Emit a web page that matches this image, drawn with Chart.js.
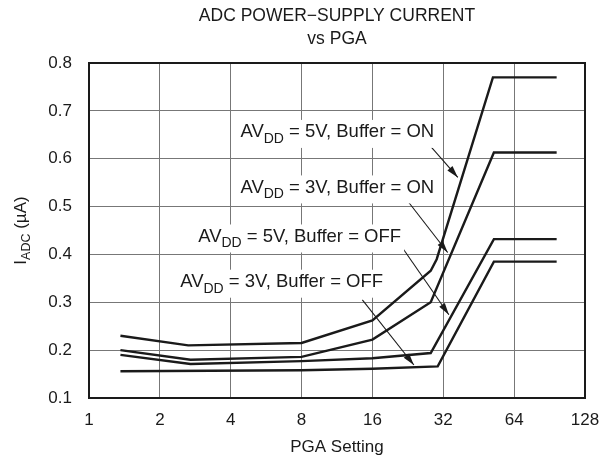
<!DOCTYPE html>
<html>
<head>
<meta charset="utf-8">
<script src="https://cdn.jsdelivr.net/npm/chart.js@4/dist/chart.umd.min.js"></script>
<style>
  body { margin: 0; background: #fff; }
  #c { display: block; }
</style>
</head>
<body>
<canvas id="c" width="613" height="466"></canvas>
<script>
// PGA ticks (log2 axis) and y ticks
var pgaTicks = [1, 2, 4, 8, 16, 32, 64, 128];
var yTicks = [0.1, 0.2, 0.3, 0.4, 0.5, 0.6, 0.7, 0.8];

// curves
var x5on  = [1.36, 2.64, 8, 16, 28.3, 30, 52, 97];
var y5on  = [0.23, 0.21, 0.215, 0.262, 0.366, 0.39, 0.77, 0.77];
var x3on  = [1.36, 2.7, 8, 16, 28.3, 52.5, 97];
var y3on  = [0.20, 0.18, 0.186, 0.222, 0.30, 0.613, 0.613];
var x5off = [1.36, 2.7, 8, 16, 28.3, 52.5, 97];
var y5off = [0.19, 0.171, 0.177, 0.183, 0.194, 0.432, 0.432];
var x3off = [1.36, 8, 16, 30.3, 52.5, 97];
var y3off = [0.156, 0.158, 0.161, 0.166, 0.385, 0.385];

// annotation labels: [voltage, buffer, x(left), y(center)]
var labels = [
  ['5V', 'ON', 4.4, 0.656],
  ['3V', 'ON', 4.4, 0.54],
  ['5V', 'OFF', 2.91, 0.4375],
  ['3V', 'OFF', 2.44, 0.343]
];
// arrows: [x0, y0, x1, y1]
var arrows = [
  [27.8, 0.63, 36.9, 0.561],
  [22.8, 0.509, 33.4, 0.404],
  [20.7, 0.425, 33.8, 0.274],
  [14.5, 0.305, 24.0, 0.169]
];

function pts(xs, ys) { return xs.map(function(x, i) { return {x: x, y: ys[i]}; }); }

var FONT = '"Liberation Sans", Arial, sans-serif';
var INK = '#1a1a1a';

function ds(xs, ys) {
  return {data: pts(xs, ys), borderColor: INK, borderWidth: 2.4, pointRadius: 0, fill: false, tension: 0};
}

var extras = {
  id: 'extras',
  afterDatasetsDraw: function(chart) {
    var ctx = chart.ctx, a = chart.chartArea;
    var xs = chart.scales.x, ys = chart.scales.y;
    ctx.save();
    // frame
    ctx.strokeStyle = INK; ctx.lineWidth = 2;
    ctx.strokeRect(a.left, a.top, a.right - a.left, a.bottom - a.top);

    // arrows
    ctx.lineWidth = 1.1;
    arrows.forEach(function(ar) {
      var x0 = xs.getPixelForValue(ar[0]), y0 = ys.getPixelForValue(ar[1]);
      var x1 = xs.getPixelForValue(ar[2]), y1 = ys.getPixelForValue(ar[3]);
      ctx.beginPath(); ctx.moveTo(x0, y0); ctx.lineTo(x1, y1); ctx.stroke();
      var ang = Math.atan2(y1 - y0, x1 - x0), L = 12, W = 3.4;
      ctx.beginPath();
      ctx.moveTo(x1, y1);
      ctx.lineTo(x1 - L * Math.cos(ang) + W * Math.sin(ang), y1 - L * Math.sin(ang) - W * Math.cos(ang));
      ctx.lineTo(x1 - L * Math.cos(ang) - W * Math.sin(ang), y1 - L * Math.sin(ang) + W * Math.cos(ang));
      ctx.closePath(); ctx.fillStyle = INK; ctx.fill();
    });

    // labels
    ctx.textBaseline = 'middle'; ctx.textAlign = 'left';
    labels.forEach(function(l) {
      var x = xs.getPixelForValue(l[2]), y = ys.getPixelForValue(l[3]);
      var big = '18.5px ' + FONT, small = '14px ' + FONT;
      var rest = ' = ' + l[0] + ', Buffer = ' + l[1];
      ctx.font = big; var w1 = ctx.measureText('AV').width, w3 = ctx.measureText(rest).width;
      ctx.font = small; var w2 = ctx.measureText('DD').width;
      ctx.fillStyle = '#fff';
      ctx.fillRect(x - 3, y - 12, w1 + w2 + w3 + 6, 28);
      ctx.fillStyle = INK;
      ctx.font = big; ctx.fillText('AV', x, y);
      ctx.font = small; ctx.fillText('DD', x + w1, y + 7);
      ctx.font = big; ctx.fillText(rest, x + w1 + w2, y);
    });

    // titles
    var cx = (a.left + a.right) / 2;
    ctx.textAlign = 'center';
    ctx.font = '17.5px ' + FONT;
    ctx.fillText('ADC POWER\u2212SUPPLY CURRENT', cx, 16);
    ctx.fillText('vs PGA', cx, 39);
    ctx.font = '17px ' + FONT;
    ctx.fillText('PGA Setting', cx, 447);

    // y title with subscript
    ctx.translate(21, (a.top + a.bottom) / 2);
    ctx.rotate(-Math.PI / 2);
    ctx.textAlign = 'left';
    ctx.font = '17px ' + FONT; var t1 = ctx.measureText('I').width, t3 = ctx.measureText(' (\u00b5A)').width;
    ctx.font = '12.5px ' + FONT; var t2 = ctx.measureText('ADC').width;
    var sx = -(t1 + t2 + t3) / 2;
    ctx.font = '17px ' + FONT; ctx.fillText('I', sx, 0);
    ctx.font = '12.5px ' + FONT; ctx.fillText('ADC', sx + t1, 6);
    ctx.font = '17px ' + FONT; ctx.fillText(' (\u00b5A)', sx + t1 + t2, 0);
    ctx.restore();
  }
};

new Chart(document.getElementById('c'), {
  type: 'line',
  data: { datasets: [ds(x5on, y5on), ds(x3on, y3on), ds(x5off, y5off), ds(x3off, y3off)] },
  options: {
    responsive: false,
    animation: false,
    layout: { padding: { top: 63, right: 28, left: 0, bottom: 0 } },
    plugins: { legend: { display: false }, tooltip: { enabled: false } },
    scales: {
      x: {
        type: 'logarithmic', min: 1, max: 128,
        afterBuildTicks: function(s) { s.ticks = pgaTicks.map(function(v) { return {value: v}; }); },
        afterFit: function(s) { s.height = 68; },
        ticks: { color: INK, font: { family: FONT, size: 17 }, padding: 12, maxRotation: 0,
                 callback: function(v) { return String(v); } },
        grid: { color: '#777', lineWidth: 1, drawTicks: false },
        border: { display: false }
      },
      y: {
        min: 0.1, max: 0.8,
        afterBuildTicks: function(s) { s.ticks = yTicks.map(function(v) { return {value: v}; }); },
        afterFit: function(s) { s.width = 89; },
        ticks: { color: INK, font: { family: FONT, size: 17 }, padding: 17,
                 callback: function(v) { return v.toFixed(1); } },
        grid: { color: '#777', lineWidth: 1, drawTicks: false },
        border: { display: false }
      }
    }
  },
  plugins: [extras]
});
</script>
</body>
</html>
